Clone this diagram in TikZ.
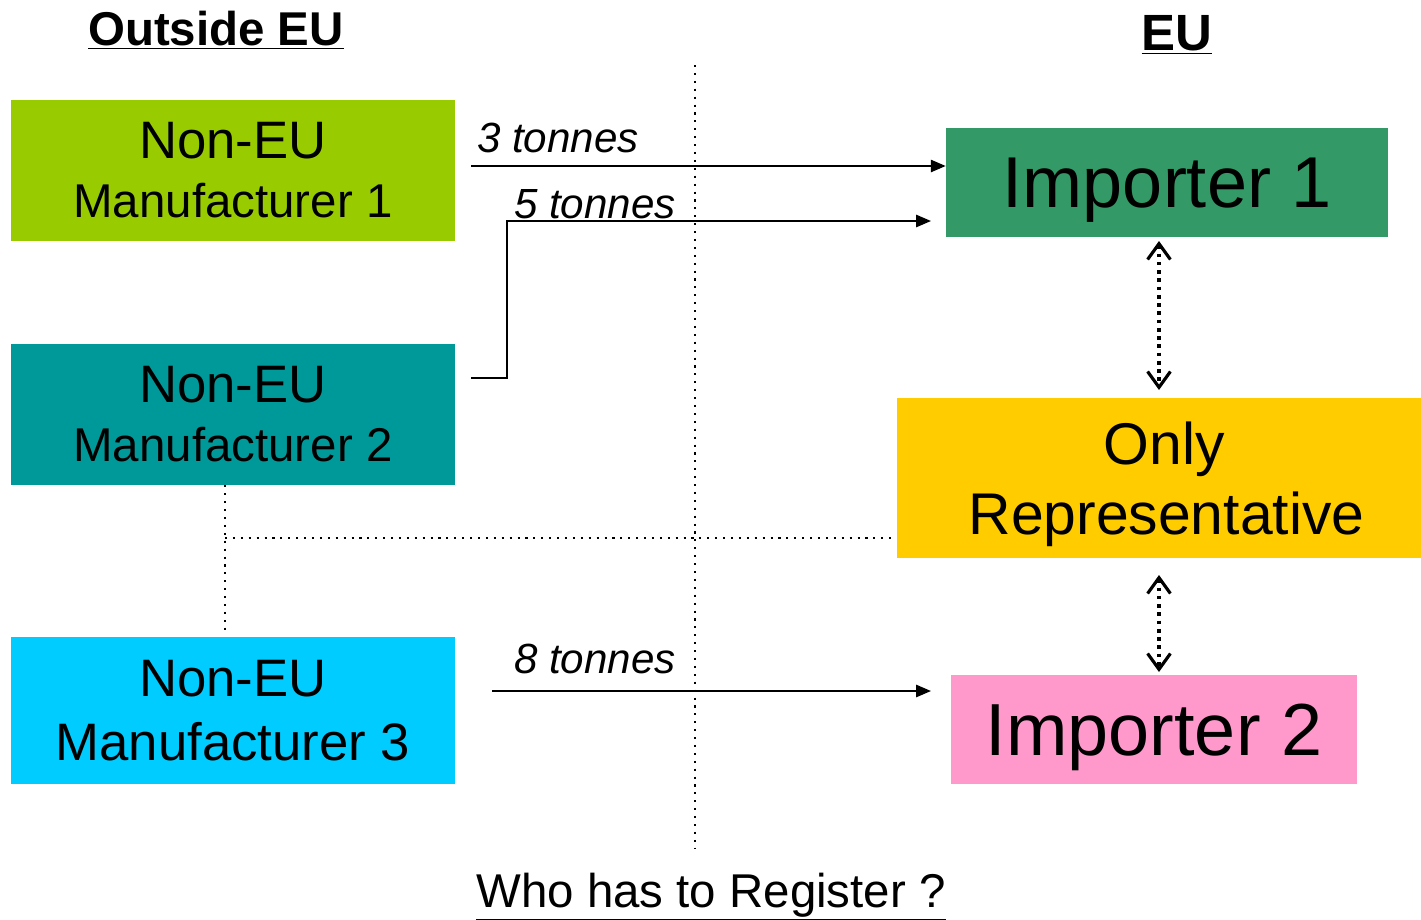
\documentclass[tikz,border=0pt]{standalone}
\usepackage{fontspec}
\setmainfont{Liberation Sans}
\usetikzlibrary{arrows.meta}

\definecolor{mfone}{HTML}{99CC00}
\definecolor{mftwo}{HTML}{009999}
\definecolor{mfthree}{HTML}{00CCFF}
\definecolor{impone}{HTML}{339966}
\definecolor{imptwo}{HTML}{FF99CC}
\definecolor{onlyrep}{HTML}{FFCC00}

\newcommand{\fs}[2]{\fontsize{#1}{#2}\selectfont}

\begin{document}
\begin{tikzpicture}[x=0.02cm, y=-0.02cm,
    box/.style={inner sep=0pt, align=center},
    flow/.style={line width=1.1pt, -{Triangle[length=8.5pt, width=7pt]}},
    sepline/.style={line width=1.2pt, dash pattern=on 1.2pt off 3.3pt},
    linkline/.style={line width=2.1pt, dash pattern=on 2.1pt off 2.6pt,
        {Straight Barb[length=9pt, width=13pt, line width=1.8pt]}-{Straight Barb[length=9pt, width=13pt, line width=1.8pt]}}]
    \useasboundingbox (0,0) rectangle (1421,920);

    % Headings
    \node (outside) at (216,30) {\fs{27}{30}\bfseries\underline{Outside EU}};
    \node (eu) at (1177,35) {\fs{29}{32}\bfseries\underline{EU}};
    \node (question) at (711,897) {\fs{27}{30}\underline{Who has to Register ?}};

    % Manufacturers outside the EU
    \node[box, fill=mfone, minimum width=8.88cm, minimum height=2.82cm,
        font=\fs{30}{33.5}] (mf1) at (233,170.5)
        {Non-EU\\{\fs{27}{33.5}Manufacturer 1}};
    \node[box, fill=mftwo, minimum width=8.88cm, minimum height=2.82cm,
        font=\fs{30}{33.5}] (mf2) at (233,414.5)
        {Non-EU\\{\fs{27}{33.5}Manufacturer 2}};
    \node[box, fill=mfthree, minimum width=8.88cm, minimum height=2.94cm,
        font=\fs{30}{36}] (mf3) at (233,710.5)
        {Non-EU\\Manufacturer 3};

    % Importers and only representative inside the EU
    \node[box, fill=impone, minimum width=8.84cm, minimum height=2.18cm,
        font=\fs{41}{45}, text depth=0pt] (imp1) at (1167,182.5) {Importer 1};
    \node[box, fill=onlyrep, minimum width=10.48cm, minimum height=3.2cm,
        font=\fs{33.5}{40}, text depth=0pt] (rep) at (1159,478)
        {\hspace*{0.2cm}Only\\\hspace*{0.3cm}Representative};
    \node[box, fill=imptwo, minimum width=8.12cm, minimum height=2.18cm,
        font=\fs{42}{45}, text depth=0pt] (imp2) at (1154,729.5) {Importer 2};

    % Border between outside EU and EU
    \coordinate (bordertop) at (695,65);
    \coordinate (borderbot) at (695,848);
    \draw[sepline] (bordertop) -- (borderbot);

    % Shipments
    \coordinate (s3) at (471,166);
    \draw[flow] (s3) -- (s3 -| imp1.west);
    \node (t3) at (558,138) {\fs{24}{26}\itshape 3 tonnes};

    \coordinate (s5) at (471,378);
    \coordinate (e5) at (931,221);
    \draw[flow] (s5) -- (507,378) |- (e5);
    \node (t5) at (595,204) {\fs{24}{26}\itshape 5 tonnes};

    \coordinate (s8) at (492,691);
    \coordinate (e8) at (931,691);
    \draw[flow] (s8) -- (e8);
    \node (t8) at (595,659) {\fs{24}{26}\itshape 8 tonnes};

    % Mandate of the only representative
    \coordinate (m3top) at (225,632);
    \coordinate (repleft) at (892,538);
    \draw[sepline] (mf2.south -| m3top) -- (m3top);
    \draw[sepline] (m3top |- repleft) -- (repleft);

    % Links between importers and only representative
    \coordinate (l1top) at (1159,241);
    \coordinate (l1bot) at (1159,390);
    \coordinate (l2top) at (1159,575);
    \coordinate (l2bot) at (1159,672);
    \draw[linkline] (l1top) -- (l1bot);
    \draw[linkline] (l2top) -- (l2bot);
\end{tikzpicture}
\end{document}
